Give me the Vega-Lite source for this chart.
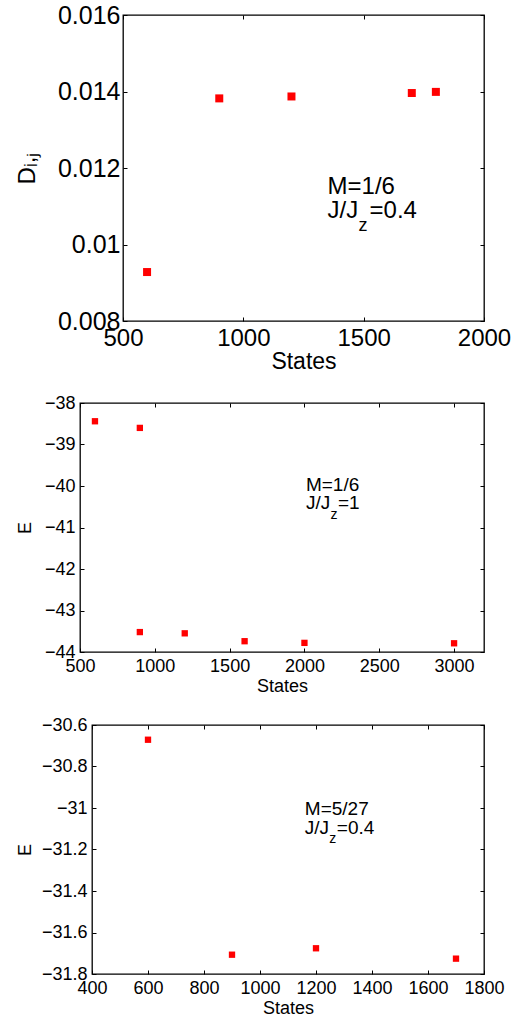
{
  "$schema": "https://vega.github.io/schema/vega-lite/v6.json",
  "background": "white",
  "padding": {"left": 0, "top": 2, "right": 5, "bottom": 2},
  "spacing": 19,
  "config": {
    "font": "Liberation Sans",
    "view": {"stroke": "black", "strokeWidth": 1.3},
    "axis": {"grid": false, "domain": false, "ticks": true, "tickSize": 4, "tickColor": "black", "tickWidth": 1, "labelColor": "black", "titleColor": "black", "labelFlush": false, "labelOverlap": false, "labelBound": false, "titleFontWeight": "normal", "labelFont": "Liberation Sans", "titleFont": "Liberation Sans"}
  },
  "vconcat": [
    {
      "spacing": 0,
      "hconcat": [
        {"width": 14, "height": 10, "view": {"stroke": null}, "data": {"values": [{"a": 0}]}, "mark": {"type": "point", "opacity": 0}, "encoding": {}},
        {
          "width": 361, "height": 306,
          "resolve": {"axis": {"x": "independent", "y": "independent"}},
          "layer": [
            {
              "data": {"values": [
                {"States": 600, "D": 0.00928},
                {"States": 900, "D": 0.01382},
                {"States": 1200, "D": 0.01387},
                {"States": 1700, "D": 0.01396},
                {"States": 1800, "D": 0.01399}
              ]},
              "mark": {"type": "point", "shape": "square", "filled": true, "color": "#ff0000", "opacity": 1, "size": 64},
              "encoding": {
                "x": {"field": "States", "type": "quantitative", "scale": {"domain": [500, 2000], "nice": false, "zero": false},
                      "axis": {"values": [500, 1000, 1500, 2000], "format": "d", "ticks": false, "labelFontSize": 24, "titleFontSize": 23, "title": "States", "labelPadding": 5, "titlePadding": 0}},
                "y": {"field": "D", "type": "quantitative", "scale": {"domain": [0.008, 0.016], "nice": false, "zero": false},
                      "axis": {"values": [0.008, 0.01, 0.012, 0.014, 0.016], "format": "~g", "ticks": false, "labelFontSize": 25, "titleFontSize": 24, "title": "Dᵢ,ⱼ", "labelPadding": 3, "titlePadding": 18}}
              }
            },
            {
              "data": {"values": [{"States": 600, "D": 0.00928}]},
              "mark": {"type": "point", "opacity": 0},
              "encoding": {
                "x": {"field": "States", "type": "quantitative", "scale": {"domain": [500, 2000], "nice": false, "zero": false},
                      "axis": {"orient": "top", "offset": -306, "values": [500, 1000, 1500, 2000], "labels": false, "title": null}},
                "y": {"field": "D", "type": "quantitative", "scale": {"domain": [0.008, 0.016], "nice": false, "zero": false},
                      "axis": {"orient": "right", "offset": -361, "values": [0.008, 0.01, 0.012, 0.014, 0.016], "labels": false, "title": null}}
              }
            },
            {
              "data": {"values": [{"States": 600, "D": 0.00928}]},
              "mark": {"type": "point", "opacity": 0},
              "encoding": {
                "x": {"field": "States", "type": "quantitative", "scale": {"domain": [500, 2000], "nice": false, "zero": false},
                      "axis": {"orient": "bottom", "offset": -306, "values": [500, 1000, 1500, 2000], "labels": false, "title": null}},
                "y": {"field": "D", "type": "quantitative", "scale": {"domain": [0.008, 0.016], "nice": false, "zero": false},
                      "axis": {"orient": "left", "offset": -361, "values": [0.008, 0.01, 0.012, 0.014, 0.016], "labels": false, "title": null}}
              }
            },
            {
              "data": {"values": [
                {"x": 1350, "y": 0.01132, "t": "M=1/6", "k": "a"},
                {"x": 1350, "y": 0.0107, "t": "J/J", "k": "a"},
                {"x": 1350, "y": 0.0107, "t": "z", "k": "s"},
                {"x": 1350, "y": 0.0107, "t": "=0.4", "k": "e"}
              ]},
              "layer": [
                {"transform": [{"filter": "datum.k == 'a'"}], "mark": {"type": "text", "align": "left", "baseline": "alphabetic", "fontSize": 24, "color": "black"}},
                {"transform": [{"filter": "datum.k == 's'"}], "mark": {"type": "text", "align": "left", "baseline": "alphabetic", "fontSize": 18, "dx": 31, "dy": 13, "color": "black"}},
                {"transform": [{"filter": "datum.k == 'e'"}], "mark": {"type": "text", "align": "left", "baseline": "alphabetic", "fontSize": 24, "dx": 42, "color": "black"}}
              ],
              "encoding": {
                "x": {"field": "x", "type": "quantitative", "scale": {"domain": [500, 2000], "nice": false, "zero": false}, "axis": null},
                "y": {"field": "y", "type": "quantitative", "scale": {"domain": [0.008, 0.016], "nice": false, "zero": false}, "axis": null},
                "text": {"field": "t"}
              }
            }
          ]
        }
      ]
    },
    {
      "spacing": 0,
      "hconcat": [
        {"width": 15, "height": 10, "view": {"stroke": null}, "data": {"values": [{"a": 0}]}, "mark": {"type": "point", "opacity": 0}, "encoding": {}},
        {
          "width": 404, "height": 249,
          "resolve": {"axis": {"x": "independent", "y": "independent"}},
          "layer": [
            {
              "data": {"values": [
                {"States": 600, "E": -38.44},
                {"States": 900, "E": -38.6},
                {"States": 900, "E": -43.52},
                {"States": 1200, "E": -43.55},
                {"States": 1600, "E": -43.74},
                {"States": 2000, "E": -43.78},
                {"States": 3000, "E": -43.79}
              ]},
              "mark": {"type": "point", "shape": "square", "filled": true, "color": "#ff0000", "opacity": 1, "size": 40},
              "encoding": {
                "x": {"field": "States", "type": "quantitative", "scale": {"domain": [500, 3200], "nice": false, "zero": false},
                      "axis": {"values": [500, 1000, 1500, 2000, 2500, 3000], "format": "d", "ticks": false, "labelFontSize": 18, "titleFontSize": 18, "title": "States", "labelPadding": 5, "titlePadding": 2}},
                "y": {"field": "E", "type": "quantitative", "scale": {"domain": [-44, -38], "nice": false, "zero": false},
                      "axis": {"values": [-44, -43, -42, -41, -40, -39, -38], "format": "~g", "ticks": false, "labelFontSize": 18, "titleFontSize": 18, "title": "E", "labelPadding": 5, "titlePadding": 10}}
              }
            },
            {
              "data": {"values": [{"States": 600, "E": -38.44}]},
              "mark": {"type": "point", "opacity": 0},
              "encoding": {
                "x": {"field": "States", "type": "quantitative", "scale": {"domain": [500, 3200], "nice": false, "zero": false},
                      "axis": {"orient": "top", "offset": -249, "values": [500, 1000, 1500, 2000, 2500, 3000], "labels": false, "title": null}},
                "y": {"field": "E", "type": "quantitative", "scale": {"domain": [-44, -38], "nice": false, "zero": false},
                      "axis": {"orient": "right", "offset": -404, "values": [-44, -43, -42, -41, -40, -39, -38], "labels": false, "title": null}}
              }
            },
            {
              "data": {"values": [{"States": 600, "E": -38.44}]},
              "mark": {"type": "point", "opacity": 0},
              "encoding": {
                "x": {"field": "States", "type": "quantitative", "scale": {"domain": [500, 3200], "nice": false, "zero": false},
                      "axis": {"orient": "bottom", "offset": -249, "values": [500, 1000, 1500, 2000, 2500, 3000], "labels": false, "title": null}},
                "y": {"field": "E", "type": "quantitative", "scale": {"domain": [-44, -38], "nice": false, "zero": false},
                      "axis": {"orient": "left", "offset": -404, "values": [-44, -43, -42, -41, -40, -39, -38], "labels": false, "title": null}}
              }
            },
            {
              "data": {"values": [
                {"x": 2010, "y": -40.12, "t": "M=1/6", "k": "a"},
                {"x": 2010, "y": -40.56, "t": "J/J", "k": "a"},
                {"x": 2010, "y": -40.56, "t": "z", "k": "s"},
                {"x": 2010, "y": -40.56, "t": "=1", "k": "e"}
              ]},
              "layer": [
                {"transform": [{"filter": "datum.k == 'a'"}], "mark": {"type": "text", "align": "left", "baseline": "alphabetic", "fontSize": 19, "color": "black"}},
                {"transform": [{"filter": "datum.k == 's'"}], "mark": {"type": "text", "align": "left", "baseline": "alphabetic", "fontSize": 14, "dx": 24.5, "dy": 9.5, "color": "black"}},
                {"transform": [{"filter": "datum.k == 'e'"}], "mark": {"type": "text", "align": "left", "baseline": "alphabetic", "fontSize": 19, "dx": 32, "color": "black"}}
              ],
              "encoding": {
                "x": {"field": "x", "type": "quantitative", "scale": {"domain": [500, 3200], "nice": false, "zero": false}, "axis": null},
                "y": {"field": "y", "type": "quantitative", "scale": {"domain": [-44, -38], "nice": false, "zero": false}, "axis": null},
                "text": {"field": "t"}
              }
            }
          ]
        }
      ]
    },
    {
      "spacing": 0,
      "hconcat": [
        {"width": 15, "height": 10, "view": {"stroke": null}, "data": {"values": [{"a": 0}]}, "mark": {"type": "point", "opacity": 0}, "encoding": {}},
        {
          "width": 392, "height": 249,
          "resolve": {"axis": {"x": "independent", "y": "independent"}},
          "layer": [
            {
              "data": {"values": [
                {"States": 600, "E": -30.671},
                {"States": 900, "E": -31.707},
                {"States": 1200, "E": -31.676},
                {"States": 1700, "E": -31.726}
              ]},
              "mark": {"type": "point", "shape": "square", "filled": true, "color": "#ff0000", "opacity": 1, "size": 40},
              "encoding": {
                "x": {"field": "States", "type": "quantitative", "scale": {"domain": [400, 1800], "nice": false, "zero": false},
                      "axis": {"values": [400, 600, 800, 1000, 1200, 1400, 1600, 1800], "format": "d", "ticks": false, "labelFontSize": 18, "titleFontSize": 18, "title": "States", "labelPadding": 5, "titlePadding": 2}},
                "y": {"field": "E", "type": "quantitative", "scale": {"domain": [-31.8, -30.6], "nice": false, "zero": false},
                      "axis": {"values": [-31.8, -31.6, -31.4, -31.2, -31, -30.8, -30.6], "format": "~g", "ticks": false, "labelFontSize": 18, "titleFontSize": 18, "title": "E", "labelPadding": 5, "titlePadding": 7}}
              }
            },
            {
              "data": {"values": [{"States": 600, "E": -30.671}]},
              "mark": {"type": "point", "opacity": 0},
              "encoding": {
                "x": {"field": "States", "type": "quantitative", "scale": {"domain": [400, 1800], "nice": false, "zero": false},
                      "axis": {"orient": "top", "offset": -249, "values": [400, 600, 800, 1000, 1200, 1400, 1600, 1800], "labels": false, "title": null}},
                "y": {"field": "E", "type": "quantitative", "scale": {"domain": [-31.8, -30.6], "nice": false, "zero": false},
                      "axis": {"orient": "right", "offset": -392, "values": [-31.8, -31.6, -31.4, -31.2, -31, -30.8, -30.6], "labels": false, "title": null}}
              }
            },
            {
              "data": {"values": [{"States": 600, "E": -30.671}]},
              "mark": {"type": "point", "opacity": 0},
              "encoding": {
                "x": {"field": "States", "type": "quantitative", "scale": {"domain": [400, 1800], "nice": false, "zero": false},
                      "axis": {"orient": "bottom", "offset": -249, "values": [400, 600, 800, 1000, 1200, 1400, 1600, 1800], "labels": false, "title": null}},
                "y": {"field": "E", "type": "quantitative", "scale": {"domain": [-31.8, -30.6], "nice": false, "zero": false},
                      "axis": {"orient": "left", "offset": -392, "values": [-31.8, -31.6, -31.4, -31.2, -31, -30.8, -30.6], "labels": false, "title": null}}
              }
            },
            {
              "data": {"values": [
                {"x": 1160, "y": -31.034, "t": "M=5/27", "k": "a"},
                {"x": 1160, "y": -31.125, "t": "J/J", "k": "a"},
                {"x": 1160, "y": -31.125, "t": "z", "k": "s"},
                {"x": 1160, "y": -31.125, "t": "=0.4", "k": "e"}
              ]},
              "layer": [
                {"transform": [{"filter": "datum.k == 'a'"}], "mark": {"type": "text", "align": "left", "baseline": "alphabetic", "fontSize": 19, "color": "black"}},
                {"transform": [{"filter": "datum.k == 's'"}], "mark": {"type": "text", "align": "left", "baseline": "alphabetic", "fontSize": 14, "dx": 24.5, "dy": 9.5, "color": "black"}},
                {"transform": [{"filter": "datum.k == 'e'"}], "mark": {"type": "text", "align": "left", "baseline": "alphabetic", "fontSize": 19, "dx": 32, "color": "black"}}
              ],
              "encoding": {
                "x": {"field": "x", "type": "quantitative", "scale": {"domain": [400, 1800], "nice": false, "zero": false}, "axis": null},
                "y": {"field": "y", "type": "quantitative", "scale": {"domain": [-31.8, -30.6], "nice": false, "zero": false}, "axis": null},
                "text": {"field": "t"}
              }
            }
          ]
        }
      ]
    }
  ]
}
